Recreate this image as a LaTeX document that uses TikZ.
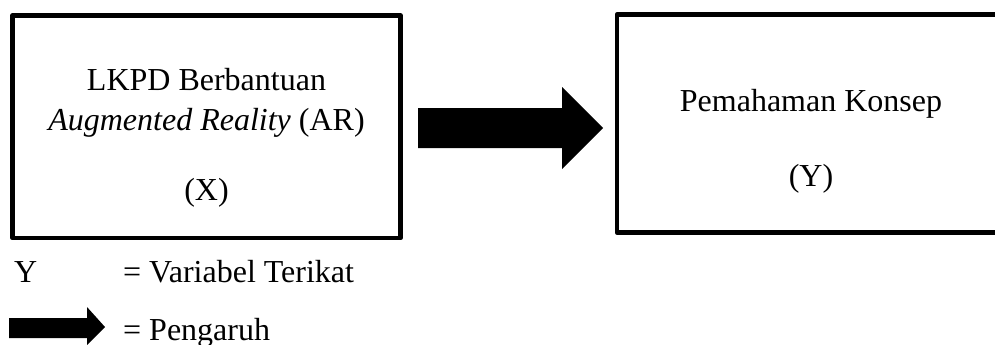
\documentclass[tikz,border=0pt]{standalone}
\usepackage{fontspec}
\setmainfont{Liberation Serif}
\begin{document}
\begin{tikzpicture}[x=1pt,y=-1pt,
  box/.style={draw=black,line width=4.5pt,line join=round},
  txt/.style={font=\fontsize{32}{38}\selectfont,anchor=base,inner sep=0pt},
  ltxt/.style={font=\fontsize{32}{38}\selectfont,anchor=base west,inner sep=0pt},
  blockarrow/.style={fill=black,draw=none}]
\useasboundingbox (0,0) rectangle (995,345);
\clip (0,0) rectangle (995,345);
% boxes
\draw[box] (12.5,15.5) rectangle (400.5,238);
\draw[box] (617,14.5) rectangle (1010,232.5);
% left box text
\node[txt] (x1) at (206.5,90) {LKPD Berbantuan};
\node[txt] (x2) at (206.5,130) {\itshape Augmented Reality\upshape{} (AR)};
\node[txt] (x3) at (206.5,200) {(X)};
% right box text
\node[txt] (y1) at (811,111) {Pemahaman Konsep};
\node[txt] (y2) at (811,186) {(Y)};
% big arrow
\fill[blockarrow] (418,108) -- (562,108) -- (562,87) -- (603,128) -- (562,169) -- (562,148) -- (418,148) -- cycle;
% legend
\node[ltxt] (ly) at (14,282) {Y};
\node[ltxt] (lv) at (123,282) {= Variabel Terikat};
\fill[blockarrow] (9,318) -- (87,318) -- (87,307) -- (105,327) -- (87,345) -- (87,338) -- (9,338) -- cycle;
\node[ltxt] (lp) at (123,340) {= Pengaruh};
\end{tikzpicture}
\end{document}
